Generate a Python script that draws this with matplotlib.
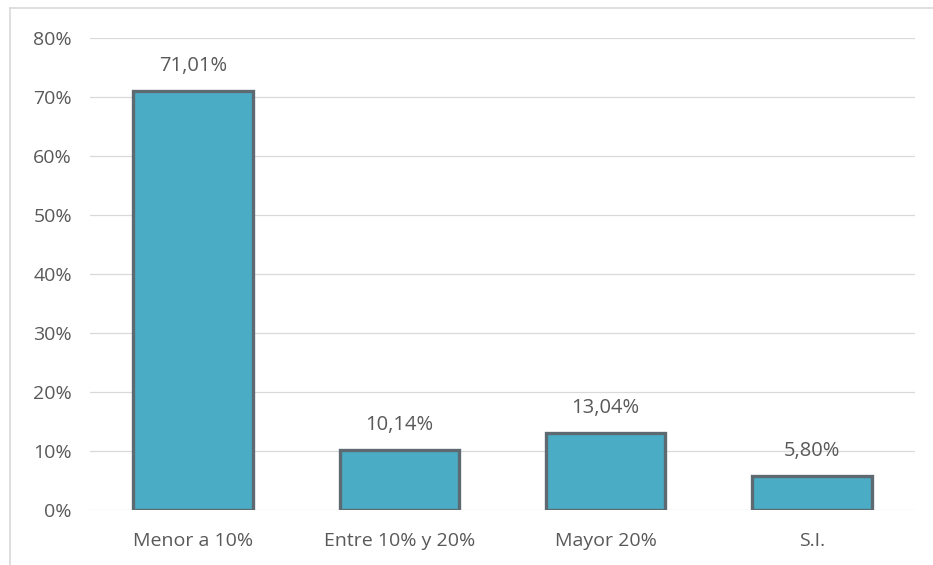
import matplotlib
matplotlib.use("Agg")
import matplotlib.pyplot as plt
from matplotlib.ticker import FuncFormatter, MultipleLocator
from matplotlib.lines import Line2D

categories = ["Menor a 10%", "Entre 10% y 20%", "Mayor 20%", "S.I."]
values = [71.01, 10.14, 13.04, 5.80]
labels = ["71,01%", "10,14%", "13,04%", "5,80%"]

plt.rcParams['font.family'] = ['Open Sans', 'DejaVu Sans']
txt = '#595959'

fig = plt.figure(figsize=(9.33, 5.65), dpi=100)
ax = fig.add_axes([90/933, 55/565, 825/933, 472/565])

ax.bar(range(len(categories)), values, width=0.58, color='#4BACC6',
       edgecolor='#5E6A72', linewidth=2.4, zorder=3)
for i, (v, l) in enumerate(zip(values, labels)):
    ax.text(i, v + 2.5, l, ha='center', va='bottom', fontsize=14.5, color=txt)

ax.set_xlim(-0.5, 3.5)
ax.set_ylim(0, 80)
ax.yaxis.set_major_locator(MultipleLocator(10))
ax.yaxis.set_major_formatter(FuncFormatter(lambda v, p: f"{int(v)}%"))
ax.grid(axis='y', color='#D9D9D9', linewidth=0.9, zorder=0)
for s in ax.spines.values():
    s.set_visible(False)
ax.tick_params(axis='both', length=0, colors=txt, labelsize=14)
ax.tick_params(axis='y', pad=13)
ax.tick_params(axis='x', pad=16)
ax.set_xticks(range(len(categories)))
ax.set_xticklabels(categories)

# outer chart border (left and top)
fig.add_artist(Line2D([10/933, 10/933], [0, 1 - 8/565], transform=fig.transFigure, color='#D9D9D9', linewidth=1.2))
fig.add_artist(Line2D([10/933, 1], [1 - 8/565, 1 - 8/565], transform=fig.transFigure, color='#D9D9D9', linewidth=1.2))

fig.savefig("out.png", dpi=100)
